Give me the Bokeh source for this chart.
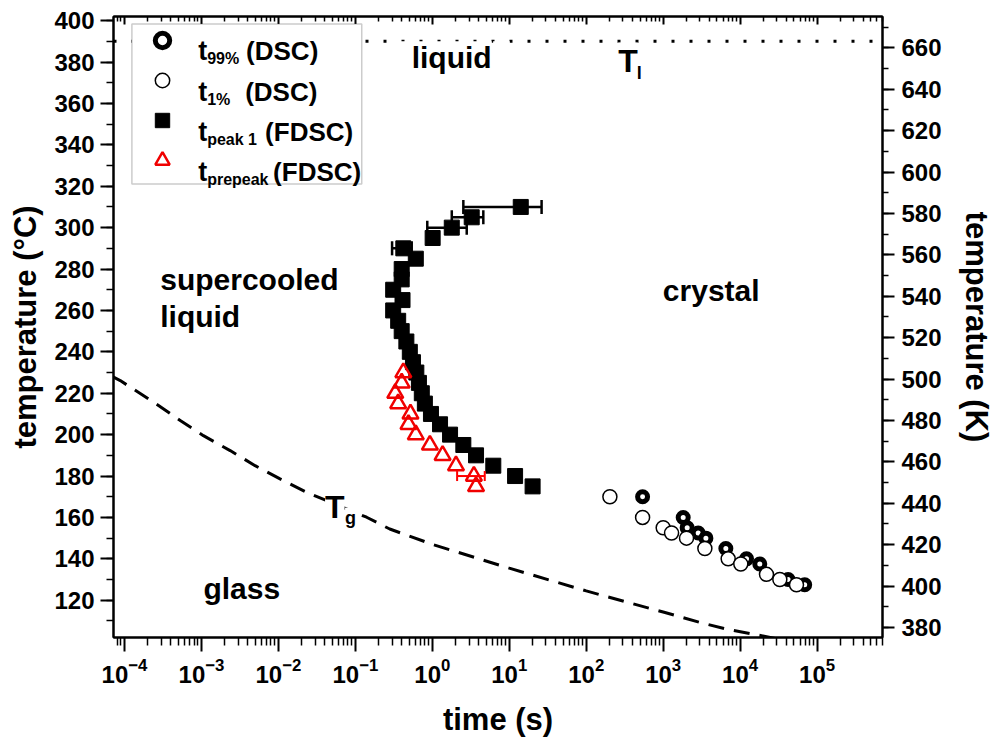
from bokeh.plotting import figure
from bokeh.models import (Range1d, LinearAxis, LogAxis, SingleIntervalTicker, FixedTicker,
                          LogTickFormatter, CustomJSTickFormatter, Span, BoxAnnotation, Label,
                          Legend, LegendItem, ColumnDataSource, Whisker, TeeHead)
from bokeh.embed import file_html
from bokeh.resources import INLINE

# ---------------- data ----------------
# DSC, t99%
t99_time = [540, 1820, 2050, 2850, 3590, 6520, 12100, 18000, 42000, 69000]
t99_temp = [170, 160, 155, 152.5, 150, 145, 140, 137.5, 130, 127.5]
# DSC, t1%
t1_time = [203, 540, 1000, 1285, 2010, 3480, 6990, 10200, 22000, 32800, 54000]
t1_temp = [170, 160, 155, 152.5, 150, 145, 140, 137.5, 132.5, 130, 127.5]
# FDSC, t peak 1
peak_temp = [310, 305, 300, 295, 290, 285, 280, 275, 270, 265, 260, 255, 250, 245,
             240, 235, 230, 225, 220, 215, 210, 205, 200, 195, 190, 185, 180, 175]
peak_time = [14.1, 3.25, 1.79, 1.01, 0.42, 0.61, 0.40, 0.40, 0.31, 0.41, 0.31, 0.36, 0.40, 0.46,
             0.51, 0.56, 0.62, 0.67, 0.73, 0.80, 0.96, 1.26, 1.70, 2.53, 3.70, 6.2, 11.9, 20.1]
peak_err_temp = [310, 305, 300, 290]
peak_err_lo = [2.53, 1.79, 0.86, 0.30]
peak_err_hi = [26.3, 4.6, 2.8, 0.54]
# FDSC, t prepeak
pre_temp = [230, 225, 220, 215, 210, 205, 200, 195, 190, 185, 180, 175]
pre_time = [0.42, 0.40, 0.33, 0.36, 0.52, 0.49, 0.61, 0.93, 1.36, 2.03, 3.47, 3.70]
pre_err_temp = [180]
pre_err_lo = [2.1]
pre_err_hi = [4.8]
# Tg line
tg_time = [7e-5, 8.8e-5, 2.6e-4, 5.3e-4, 1.06e-3, 2.36e-3, 4.98e-3, 1.05e-2, 2.34e-2,
           0.14, 0.28, 1, 10, 100, 1000, 2980, 7310, 19000, 30000]
tg_temp = [228, 226.1, 214.8, 206.8, 199.5, 192.3, 185.0, 178.6, 172.1,
           160.1, 154.4, 147, 135.5, 124.5, 114.3, 109.3, 105.7, 102.9, 101.3]
# liquidus temperature
T_liquidus = 390
K_OFFSET = 273.15

decades = [-4, -3, -2, -1, 0, 1, 2, 3, 4, 5]

FONT = "Liberation Sans"

p = figure(x_axis_type="log",
           x_range=Range1d(10 ** -4.143, 10 ** 5.85),
           y_range=Range1d(102, 402),
           frame_width=769, frame_height=621,
           min_border_left=113, min_border_right=100,
           min_border_top=16, min_border_bottom=100,
           output_backend="svg", toolbar_location=None)
p.extra_y_ranges = {"K": Range1d(102 + K_OFFSET, 402 + K_OFFSET)}
p.xgrid.visible = False
p.ygrid.visible = False
p.outline_line_color = "black"
p.outline_line_width = 2
p.background_fill_color = "white"
p.border_fill_color = "white"

major_x = [10.0 ** e for e in decades]
minor_x = [m * 10.0 ** e for e in range(-5, 6) for m in range(2, 10)]


def style_axis(ax, tick_out, minor_out, tick_in=0, minor_in=0):
    ax.axis_line_color = "black"
    ax.axis_line_width = 2
    ax.major_tick_line_color = "black"
    ax.major_tick_line_width = 2
    ax.minor_tick_line_color = "black"
    ax.minor_tick_line_width = 1.5
    ax.major_tick_out = tick_out
    ax.major_tick_in = tick_in
    ax.minor_tick_out = minor_out
    ax.minor_tick_in = minor_in
    ax.major_label_text_font = FONT
    ax.major_label_text_font_style = "bold"
    ax.major_label_text_font_size = "24px"
    ax.major_label_text_color = "black"
    ax.axis_label_text_font = FONT
    ax.axis_label_text_font_style = "bold"
    ax.axis_label_text_font_size = "31px"
    ax.axis_label_text_color = "black"


# bottom axis
xa = p.xaxis[0]
xa.ticker = FixedTicker(ticks=major_x, minor_ticks=minor_x)
xa.formatter = LogTickFormatter()
xa.axis_label = "time (s)"
style_axis(xa, 14, 8)
xa.major_label_standoff = 6
xa.axis_label_standoff = 16

# left axis
ya = p.yaxis[0]
ya.ticker = SingleIntervalTicker(interval=20, num_minor_ticks=2)
ya.axis_label = "temperature (°C)"
style_axis(ya, 13, 7)
ya.major_label_standoff = 6
ya.axis_label_standoff = 8

# right axis (Kelvin)
ra = LinearAxis(y_range_name="K", ticker=SingleIntervalTicker(interval=20, num_minor_ticks=2),
                axis_label="temperature (K)")
style_axis(ra, 12, 6)
ra.major_label_standoff = 7
ra.axis_label_standoff = 14
p.add_layout(ra, "right")

# top axis: ticks only, pointing inwards
ta = LogAxis(ticker=FixedTicker(ticks=major_x, minor_ticks=minor_x),
             formatter=CustomJSTickFormatter(code="return ''"))
style_axis(ta, 0, 0, tick_in=8, minor_in=5)
ta.major_label_text_font_size = "1px"
ta.major_label_standoff = 0
p.add_layout(ta, "above")

# ---------------- glyphs ----------------
p.line(tg_time, tg_temp, line_color="black", line_width=3, line_dash="16 10")

r99 = p.scatter(t99_time, t99_temp, marker="circle", size=10, fill_color="white",
                line_color="black", line_width=5)
r1 = p.scatter(t1_time, t1_temp, marker="circle", size=14, fill_color="white",
               line_color="black", line_width=1.5)

peak_err = ColumnDataSource(dict(T=peak_err_temp, lo=peak_err_lo, hi=peak_err_hi))
p.add_layout(Whisker(source=peak_err, base="T", lower="lo", upper="hi", dimension="width",
                     line_color="black", line_width=2.5,
                     upper_head=TeeHead(size=14, line_width=2.5, line_color="black"),
                     lower_head=TeeHead(size=14, line_width=2.5, line_color="black"),
                     level="glyph"))
rpk = p.scatter(peak_time, peak_temp, marker="square", size=15, fill_color="black",
                line_color="black", line_width=1)

pre_err = ColumnDataSource(dict(T=pre_err_temp, lo=pre_err_lo, hi=pre_err_hi))
p.add_layout(Whisker(source=pre_err, base="T", lower="lo", upper="hi", dimension="width",
                     line_color="red", line_width=2,
                     upper_head=TeeHead(size=10, line_width=2, line_color="red"),
                     lower_head=TeeHead(size=10, line_width=2, line_color="red"),
                     level="glyph"))
rpre = p.scatter(pre_time, pre_temp, marker="triangle", size=16, fill_alpha=0,
                 line_color="#f00000", line_width=2.5)

# liquidus line
p.add_layout(Span(location=T_liquidus, dimension="width", line_color="black",
                  line_width=3, line_dash="3 15"))


def label(x, y, text, size, bg=False):
    kw = {}
    if bg:
        kw = dict(background_fill_color="white")
    return Label(x=x, y=y, text=text, text_font=FONT, text_font_style="bold",
                 text_font_size=size, text_color="black", text_baseline="alphabetic",
                 text_align="left", **kw)


# region labels
p.add_layout(label(10 ** -0.45, 382.1, "  ", "30px", bg=True))
p.add_layout(label(10 ** 0.79, 382.1, "  ", "30px", bg=True))
p.add_layout(label(10 ** -0.268, 382.1, "liquid", "30px", bg=True))
p.add_layout(label(10 ** 2.243, 380.7, "  ", "24px", bg=True))
p.add_layout(label(10 ** 2.64, 380.7, "  ", "24px", bg=True))
p.add_layout(label(10 ** 2.416, 380.7, "T", "32px", bg=True))
p.add_layout(label(10 ** 2.658, 374.9, "l", "18px"))
p.add_layout(label(10 ** -3.536, 274.9, "supercooled", "30px"))
p.add_layout(label(10 ** -3.536, 257.0, "liquid", "30px"))
p.add_layout(label(10 ** 2.996, 269.6, "crystal", "30px"))
p.add_layout(label(10 ** -2.974, 125.6, "glass", "30px"))
p.add_layout(label(10 ** -1.394, 164.9, "T", "32px", bg=True))
p.add_layout(label(10 ** -1.134, 159.9, "g ", "18px", bg=True))

# ---------------- legend ----------------
p.add_layout(BoxAnnotation(left=10 ** -3.904, right=10 ** -0.917, top=398.4, bottom=321.1,
                           fill_color="white", fill_alpha=1, line_color="#555555",
                           line_width=1.5))
legend = Legend(items=[LegendItem(label="", renderers=[r99]),
                       LegendItem(label="", renderers=[r1]),
                       LegendItem(label="", renderers=[rpk]),
                       LegendItem(label="", renderers=[rpre])],
                location=(31, 459), glyph_width=36, glyph_height=36, spacing=4,
                padding=0, margin=0, border_line_alpha=0, background_fill_alpha=0,
                label_text_font_size="10px", label_standoff=0, label_width=1, label_height=20)
p.add_layout(legend, "center")

leg_sub = ["99%", "1%", "peak 1", "prepeak"]
leg_main = ["(DSC)", "(DSC)", "(FDSC)", "(FDSC)"]
leg_main_x = [10 ** -2.42, 10 ** -2.432, 10 ** -2.173, 10 ** -2.069]
leg_base = [385.5, 365.7, 346.4, 327.1]
for i in range(4):
    p.add_layout(label(10 ** -3.043, leg_base[i], "t", "27px"))
    p.add_layout(label(10 ** -2.926, leg_base[i] - 3.9, leg_sub[i], "16px"))
    p.add_layout(label(leg_main_x[i], leg_base[i], leg_main[i], "26px"))

open("out.html", "w").write(file_html(p, INLINE))
